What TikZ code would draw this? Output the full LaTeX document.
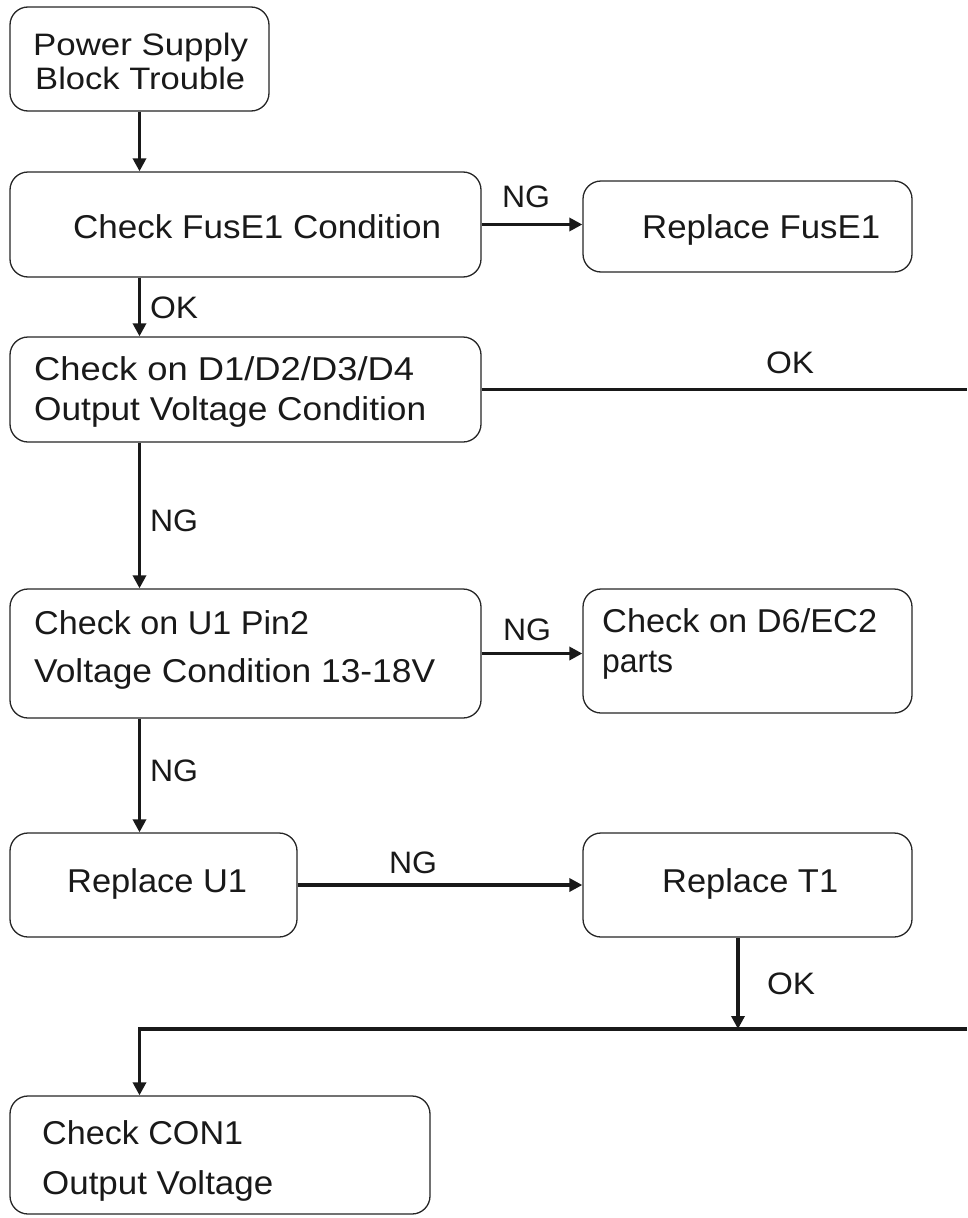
\documentclass[tikz,border=0pt]{standalone}
\usepackage{fontspec}
\usepackage{graphicx}
\setmainfont{Liberation Sans}
\usetikzlibrary{arrows.meta}
\newsavebox\fitbox
\newcommand\fitto[2]{\sbox\fitbox{#2}\pgfmathsetmacro\fitsx{#1/\wd\fitbox}\scalebox{\fitsx}[1]{\usebox\fitbox}}
\tikzset{
  box/.style={draw=black!85, line width=1.3pt, rounded corners=18pt, inner sep=0pt, fill=white},
  txt/.style={inner sep=0pt, anchor=base west, font=\fontsize{33}{39}\selectfont, text=black!90},
  txts/.style={txt, font=\fontsize{31}{37}\selectfont},
  lbl/.style={inner sep=0pt, anchor=base, font=\fontsize{31}{37}\selectfont, text=black!90},
  conn/.style={line width=3.3pt, draw=black!90},
  arr/.style={conn, -{Triangle[length=13pt,width=13pt]}},
}
\begin{document}
\begin{tikzpicture}[x=1pt,y=-1pt]
\useasboundingbox (0,0) rectangle (967,1218);
% boxes
\node[box, minimum width=259pt, minimum height=104pt] (b1) at (139.5,59) {};
\node[box, minimum width=471pt, minimum height=105pt] (b2) at (245.5,224.5) {};
\node[box, minimum width=329pt, minimum height=91pt] (b3) at (747.5,226.5) {};
\node[box, minimum width=471pt, minimum height=105pt] (b4) at (245.5,389.5) {};
\node[box, minimum width=471pt, minimum height=129pt] (b5) at (245.5,653.5) {};
\node[box, minimum width=329pt, minimum height=124pt] (b6) at (747.5,651) {};
\node[box, minimum width=287pt, minimum height=104pt] (b7) at (153.5,885) {};
\node[box, minimum width=329pt, minimum height=104pt] (b8) at (747.5,885) {};
\node[box, minimum width=420pt, minimum height=118pt] (b9) at (220,1155) {};
% texts
\node[txts] (t1a) at (33,55) {\fitto{215}{Power Supply}};
\node[txts] (t1b) at (35,89) {\fitto{210}{Block Trouble}};
\node[txt] (t2) at (73,238) {\fitto{368}{Check FusE1 Condition}};
\node[txt] (t3) at (642,238) {\fitto{238}{Replace FusE1}};
\node[txt] (t4a) at (34,380) {\fitto{380}{Check on D1/D2/D3/D4}};
\node[txt] (t4b) at (34,420) {\fitto{392}{Output Voltage Condition}};
\node[txt] (t5a) at (34,634) {\fitto{275}{Check on U1 Pin2}};
\node[txt] (t5b) at (34,682) {\fitto{401}{Voltage Condition 13-18V}};
\node[txt] (t6a) at (602,632) {\fitto{275}{Check on D6/EC2}};
\node[txt] (t6b) at (602,672) {\fitto{71}{parts}};
\node[txt] (t7) at (67,892) {\fitto{180}{Replace U1}};
\node[txt] (t8) at (662,892) {\fitto{176}{Replace T1}};
\node[txt] (t9a) at (42,1144) {\fitto{201}{Check CON1}};
\node[txt] (t9b) at (42,1194) {\fitto{231}{Output Voltage}};
% coordinates
\coordinate (r1) at (967,389.5);
\coordinate (j) at (738,1029);
\coordinate (r2) at (967,1029);
% connectors
\draw[arr] (b1.south) -- (b1.south |- b2.north);
\draw[arr] (b2.east) -- (b2.east -| b3.west);
\draw[arr] (b1.south |- b2.south) -- (b1.south |- b4.north);
\draw[conn] (b4.east) -- (r1);
\draw[arr] (b1.south |- b4.south) -- (b1.south |- b5.north);
\draw[arr] (b5.east) -- (b5.east -| b6.west);
\draw[arr] (b1.south |- b5.south) -- (b1.south |- b7.north);
\draw[arr] (b7.east) -- (b7.east -| b8.west);
\draw[arr] (j |- b8.south) -- (j);
\draw[arr] (r2) -- (r2 -| b1.south) -- (b1.south |- b9.north);
% labels
\node[lbl] (l1) at (526,207) {\fitto{48}{NG}};
\node[lbl] (l2) at (174,318) {\fitto{48}{OK}};
\node[lbl] (l3) at (790,373) {\fitto{48}{OK}};
\node[lbl] (l4) at (174,531) {\fitto{48}{NG}};
\node[lbl] (l5) at (527,640) {\fitto{48}{NG}};
\node[lbl] (l6) at (174,781) {\fitto{48}{NG}};
\node[lbl] (l7) at (413,873) {\fitto{48}{NG}};
\node[lbl] (l8) at (791,994) {\fitto{48}{OK}};
\end{tikzpicture}
\end{document}
